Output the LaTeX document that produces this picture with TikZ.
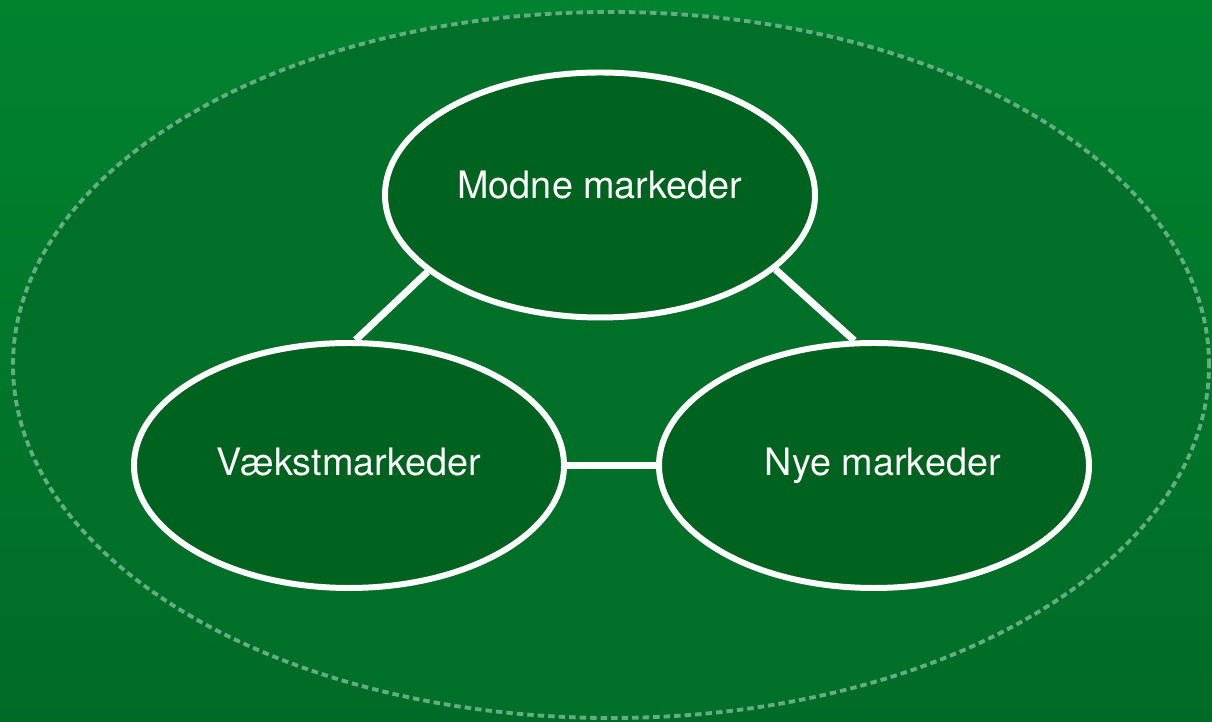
\documentclass[tikz,border=0pt]{standalone}
\usepackage{fontspec}
\setmainfont{TeX Gyre Heros}
\usetikzlibrary{shapes.geometric}

\definecolor{bgouter}{HTML}{00822F}
\definecolor{bginner}{HTML}{006B26}
\definecolor{ringgreen}{HTML}{007029}
\definecolor{nodegreen}{HTML}{00621F}
\definecolor{dashgreen}{HTML}{62AE80}

\tikzset{
	market/.style={ellipse, draw=white, line width=3.4pt, fill=nodegreen,
		minimum width=8.6cm, minimum height=4.9cm, inner sep=0pt,
		text=white, font=\fontsize{21.5}{25}\selectfont},
	link/.style={draw=white, line width=4pt}
}

\begin{document}
\begin{tikzpicture}
		%%%%% START %%%%%
		
		\useasboundingbox (0, 0) rectangle (24.24, 14.44);
		\shade[top color=bgouter, bottom color=bginner] (0, 0) rectangle (24.24, 14.44);
		
		\fill[ringgreen] (12.22, 7.14) ellipse (11.96 and 7.06);
		\draw[dashgreen, line width=2.2pt, dash pattern=on 0.13cm off 0.08cm] (12.22, 7.14) ellipse (11.96 and 7.06);
		
		\node[market] (modne) at (12.0, 10.54) {\raisebox{0.4cm}{Modne markeder}};
		\node[market] (vaekst) at (6.98, 5.13) {\raisebox{0.15cm}{Vækstmarkeder}};
		\node[market] (nye) at (17.48, 5.13) {\hspace{0.35cm}\raisebox{0.15cm}{Nye markeder}};
		
		\draw[link] (modne.204) -- (vaekst.87);
		\draw[link] (modne.337) -- (nye.99);
		\draw[link] (vaekst.east) -- (nye.west);
		
		%%%%% END %%%%%
	\end{tikzpicture}
\end{document}
